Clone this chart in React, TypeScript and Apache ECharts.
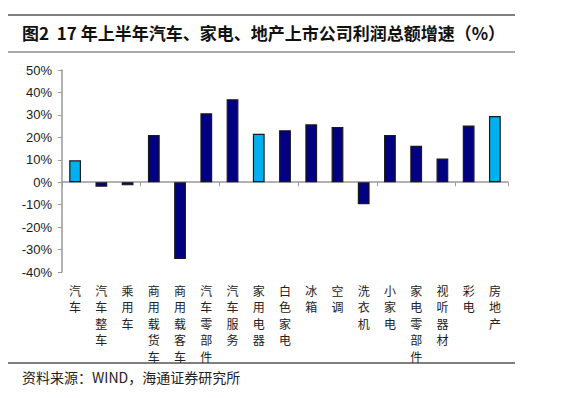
import React, { useEffect, useRef } from "react";
import * as echarts from "echarts";

const categories = ["汽车", "汽车整车", "乘用车", "商用载货车", "商用载客车", "汽车零部件", "汽车服务", "家用电器", "白色家电", "冰箱", "空调", "洗衣机", "小家电", "家电零部件", "视听器材", "彩电", "房地产"];
const growth = [9.8, -2.0, -1.4, 21.0, -34.2, 30.7, 37.0, 21.6, 23.2, 25.8, 24.6, -9.8, 21.0, 16.2, 10.6, 25.3, 29.5];
const highlighted = ["汽车", "家用电器", "房地产"];
const yTicks = { min: -40, max: 50, interval: 10 };

const titleText = "图2  17 年上半年汽车、家电、地产上市公司利润总额增速（%）";
const sourceText = "资料来源：WIND，海通证券研究所";

export default function App() {
  const ref = useRef<HTMLDivElement>(null);
  useEffect(() => {
    if (!ref.current) return;
    const chart = echarts.init(ref.current, null, { renderer: "svg" });
    const dark = "#000080";
    const light = "#00B0F0";
    chart.setOption({
      animation: false,
      backgroundColor: "#ffffff",
      grid: { left: 62, right: 70, top: 70, bottom: 126, containLabel: false },
      xAxis: [
        {
          type: "category",
          data: categories,
          axisLine: { onZero: true, lineStyle: { color: "#999999", width: 1.5 } },
          axisTick: { show: true, length: 4, lineStyle: { color: "#999999" } },
          axisLabel: { show: false },
          splitLine: { show: false },
        },
        {
          type: "category",
          data: categories,
          position: "bottom",
          axisLine: { show: false, onZero: false },
          axisTick: { show: false },
          axisLabel: {
            show: true,
            interval: 0,
            margin: 10,
            fontSize: 12,
            lineHeight: 16.5,
            color: "#222222",
            fontFamily: "Noto Sans CJK SC",
            formatter: (v: string) => v.split("").join("\n"),
          },
        },
      ],
      yAxis: {
        type: "value",
        min: yTicks.min,
        max: yTicks.max,
        interval: yTicks.interval,
        axisLine: { show: true, lineStyle: { color: "#999999", width: 1.5 } },
        axisTick: { show: true, length: 4, lineStyle: { color: "#999999" } },
        splitLine: { show: false },
        axisLabel: {
          margin: 10,
          fontSize: 13,
          color: "#1a1a1a",
          fontFamily: "Liberation Sans, Arial, sans-serif",
          formatter: (v: number) => `${v}%`,
        },
      },
      series: [
        {
          type: "bar",
          xAxisIndex: 0,
          barWidth: "45%",
          data: growth.map((v, i) => ({
            value: v,
            itemStyle: {
              color: highlighted.includes(categories[i]) ? light : dark,
              borderColor: "#1a1a1a",
              borderWidth: 1.2,
            },
          })),
        },
      ],
      graphic: [
        { type: "line", shape: { x1: 8, y1: 15, x2: 515, y2: 15 }, style: { stroke: "#555555", lineWidth: 1.5 } },
        {
          type: "text",
          left: 22,
          top: 24,
          style: {
            text: titleText,
            fontSize: 17,
            fontWeight: "bold",
            fill: "#111111",
            fontFamily: "Noto Sans CJK SC",
          },
        },
        { type: "line", shape: { x1: 8, y1: 52, x2: 515, y2: 52 }, style: { stroke: "#555555", lineWidth: 1 } },
        { type: "line", shape: { x1: 8, y1: 363, x2: 515, y2: 363 }, style: { stroke: "#555555", lineWidth: 1.5 } },
        {
          type: "text",
          left: 22,
          top: 370,
          style: {
            text: sourceText,
            fontSize: 14,
            fill: "#222222",
            fontFamily: "Noto Sans CJK SC",
          },
        },
      ],
    });
    return () => chart.dispose();
  }, []);
  return <div ref={ref} style={{ width: 578, height: 398, position: "absolute", left: 0, top: 0 }} />;
}
